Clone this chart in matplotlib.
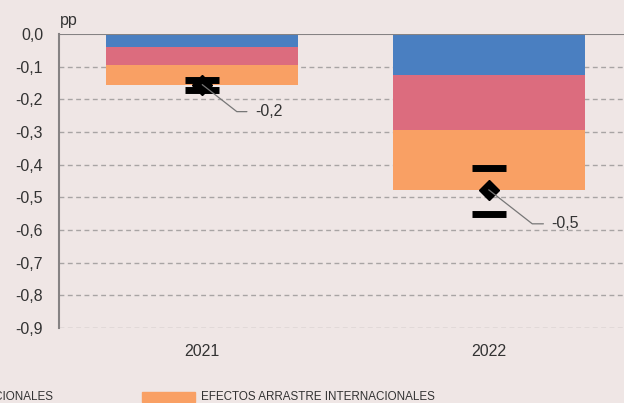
import matplotlib
matplotlib.use("Agg")
import matplotlib.pyplot as plt
from matplotlib import font_manager
from matplotlib.patches import Rectangle

# data (pp)
years = ["2021", "2022"]
series_names = ["EFECTOS DIRECTOS", "EFECTOS NACIONALES", "EFECTOS ARRASTRE INTERNACIONALES"]
blue_vals = [-0.040, -0.125]
pink_vals = [-0.055, -0.168]
orange_vals = [-0.060, -0.184]
totals = [-0.155, -0.477]
band_upper = [-0.141, -0.410]
band_lower = [-0.171, -0.551]
total_labels = ["-0,2", "-0,5"]
yticks = [0.0, -0.1, -0.2, -0.3, -0.4, -0.5, -0.6, -0.7, -0.8, -0.9]

bg = "#efe6e5"
c_blue = "#4a7fc1"
c_pink = "#dc6c7e"
c_orange = "#f9a064"
txt = "#333333"

names = {f.name for f in font_manager.fontManager.ttflist}
main_font = "Liberation Sans" if "Liberation Sans" in names else "DejaVu Sans"

plt.rcParams['font.family'] = [main_font, 'DejaVu Sans']

fig = plt.figure(figsize=(6.24, 4.03), dpi=100, facecolor=bg)
ax = fig.add_axes([59 / 624, 1 - 328 / 403, (632 - 59) / 624, (328 - 34) / 403])
ax.set_facecolor(bg)

x = list(range(len(years)))
w = 0.67
cum1 = [a + b for a, b in zip(blue_vals, pink_vals)]
ax.bar(x, blue_vals, w, color=c_blue, zorder=2)
ax.bar(x, pink_vals, w, bottom=blue_vals, color=c_pink, zorder=2)
ax.bar(x, orange_vals, w, bottom=cum1, color=c_orange, zorder=2)

mid = [(u + l) / 2 for u, l in zip(band_upper, band_lower)]
err = [[m - l for m, l in zip(mid, band_lower)], [u - m for m, u in zip(mid, band_upper)]]
ax.plot(x, totals, 'D', color='black', markersize=10.5, zorder=4)
ax.errorbar(x, mid, yerr=err, fmt='none', ecolor='black', elinewidth=0,
            capsize=11.9, capthick=5, zorder=5)

offsets = [(53, -27), (63, -34)]
angles = [-38, -38]
for xi, t, lab, off, ang in zip(x, totals, total_labels, offsets, angles):
    ax.annotate(lab, xy=(xi, t), xytext=off, textcoords='offset pixels',
                ha='left', va='center', fontsize=11.5, color=txt, zorder=6,
                arrowprops=dict(arrowstyle='-', color='#777777', lw=0.9,
                                shrinkA=4, shrinkB=0,
                                connectionstyle=f"angle,angleA=0,angleB={ang},rad=0"))

ax.set_xlim(-0.5, 1.5)
ax.set_ylim(-0.9, 0.0)
ax.set_yticks(yticks)
ax.set_yticklabels([f"{v:.1f}".replace(".", ",") if v != 0 else "0,0" for v in yticks])
ax.set_xticks(x)
ax.set_xticklabels(years)
ax.tick_params(axis='both', length=0, labelsize=11.5, colors=txt)
ax.tick_params(axis='y', pad=11.5)
ax.tick_params(axis='x', pad=11.5)
for v in yticks[1:]:
    ax.axhline(v, color='#a8a4a4', lw=1, ls=(0, (3.5, 2.5)), zorder=1)
ax.axhline(0, color='#858283', lw=1.5, zorder=3)
for s in ['top', 'right', 'bottom']:
    ax.spines[s].set_visible(False)
ax.spines['left'].set_color('#858283')
ax.spines['left'].set_linewidth(1.5)

fig.text(60 / 624, 1 - 20 / 403, "pp", fontsize=11.5, color=txt, ha='left', va='center')

# bottom legend (cut off on the left, as in the source)
leg_kw = dict(fontsize=8.4, color=txt, va='center')
fig.text(53 / 624, 1 - 397 / 403, series_names[1], ha='right', **leg_kw)
fig.patches.append(Rectangle((142 / 624, 1 - 402 / 403), 53 / 624, 10 / 403,
                             transform=fig.transFigure, color=c_orange, figure=fig))
fig.text(201 / 624, 1 - 397 / 403, series_names[2], ha='left', **leg_kw)

fig.savefig("out.png", dpi=100, facecolor=bg)
